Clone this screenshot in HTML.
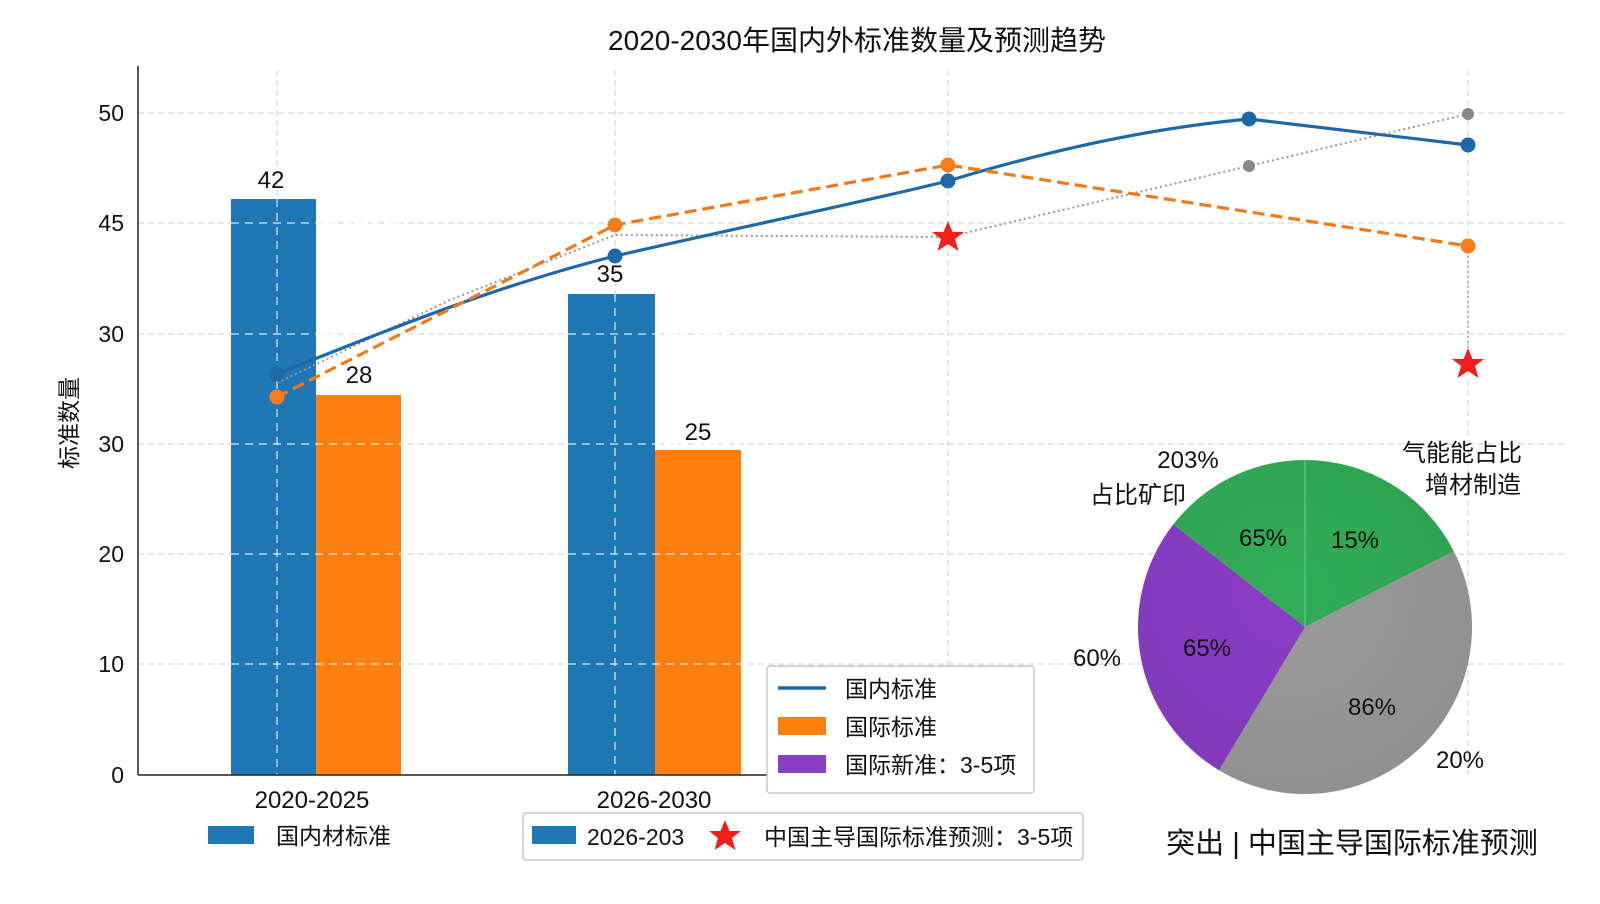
<!DOCTYPE html>
<html><head><meta charset="utf-8"><style>
html,body{margin:0;padding:0;background:#fff;}
svg text{font-family:"Liberation Sans","Noto Sans CJK SC",sans-serif;fill:#111;}
</style></head><body>
<svg width="1600" height="899" viewBox="0 0 1600 899" xmlns="http://www.w3.org/2000/svg">
<defs>
<radialGradient id="pg" cx="0.45" cy="0.4" r="0.7"><stop offset="0" stop-color="#000" stop-opacity="0"/><stop offset="1" stop-color="#000" stop-opacity="0.08"/></radialGradient>
</defs>
<text x="857" y="50" font-size="28" text-anchor="middle">2020-2030年国内外标准数量及预测趋势</text>
<g stroke="#cfcfcf" stroke-width="1" stroke-dasharray="6,4">
<line x1="138" y1="113" x2="1566" y2="113"/>
<line x1="138" y1="223" x2="1566" y2="223"/>
<line x1="138" y1="334" x2="1566" y2="334"/>
<line x1="138" y1="444" x2="1566" y2="444"/>
<line x1="138" y1="554" x2="1566" y2="554"/>
<line x1="138" y1="664" x2="1566" y2="664"/>
<line x1="277" y1="70" x2="277" y2="775"/>
<line x1="615" y1="70" x2="615" y2="775"/>
<line x1="948" y1="70" x2="948" y2="775"/>
<line x1="1468" y1="70" x2="1468" y2="775"/>
</g>
<rect x="231" y="199" width="85" height="576" fill="#1f77b4"/>
<rect x="316" y="395" width="85" height="380" fill="#ff7f0e"/>
<rect x="568" y="294" width="87" height="481" fill="#1f77b4"/>
<rect x="655" y="450" width="86" height="325" fill="#ff7f0e"/>
<g stroke="#fff" stroke-opacity="0.7" stroke-width="1.5" stroke-dasharray="8,6">
<line x1="277" y1="199" x2="277" y2="775"/><line x1="615" y1="294" x2="615" y2="775"/>
<line x1="231" y1="223" x2="401" y2="223"/><line x1="231" y1="334" x2="401" y2="334"/><line x1="231" y1="444" x2="401" y2="444"/><line x1="231" y1="554" x2="401" y2="554"/><line x1="231" y1="664" x2="401" y2="664"/>
<line x1="568" y1="334" x2="741" y2="334"/><line x1="568" y1="444" x2="741" y2="444"/><line x1="568" y1="554" x2="741" y2="554"/><line x1="568" y1="664" x2="741" y2="664"/>
</g>
<g font-size="24" text-anchor="middle">
<text x="271" y="188">42</text><text x="359" y="383">28</text><text x="610" y="282">35</text><text x="698" y="440">25</text>
</g>
<line x1="138" y1="66" x2="138" y2="775" stroke="#222" stroke-width="1.5"/>
<line x1="138" y1="775" x2="770" y2="775" stroke="#222" stroke-width="1.5"/>
<g font-size="23" text-anchor="end">
<text x="124" y="121">50</text><text x="124" y="231">45</text><text x="124" y="342">30</text><text x="124" y="452">30</text><text x="124" y="562">20</text><text x="124" y="672">10</text><text x="124" y="783">0</text>
</g>
<text transform="translate(77,423) rotate(-90)" font-size="23" text-anchor="middle">标准数量</text>
<g font-size="24" text-anchor="middle"><text x="312" y="808">2020-2025</text><text x="654" y="808">2026-2030</text></g>
<polyline points="277,383 450,300 615,235 948,237 1249,166 1468,114" fill="none" stroke="#999" stroke-width="2" stroke-dasharray="2,3"/>
<path d="M277,374 C400,325 500,285 615,256 C750,225 850,205 948,181 C1050,150 1150,128 1249,119 L1468,145" fill="none" stroke="#1f68a8" stroke-width="3.2"/>
<polyline points="277,397 615,225 948,165 1468,246" fill="none" stroke="#f07a1a" stroke-width="3.2" stroke-dasharray="12,6"/>
<line x1="1468" y1="246" x2="1468" y2="364" stroke="#888" stroke-width="1.2" stroke-dasharray="2,3"/>
<g fill="#1f68a8"><circle cx="277" cy="374" r="7.5"/><circle cx="615" cy="256" r="7.5"/><circle cx="948" cy="181" r="7.5"/><circle cx="1249" cy="119" r="7.5"/><circle cx="1468" cy="145" r="7.5"/></g>
<g fill="#f57d1c"><circle cx="277" cy="397" r="7.5"/><circle cx="615" cy="225" r="7.5"/><circle cx="948" cy="165" r="7.5"/><circle cx="1468" cy="246" r="7.5"/></g>
<g fill="#888"><circle cx="1249" cy="166" r="6"/><circle cx="1468" cy="114" r="6"/></g>
<g fill="#f21d1d">
<polygon points="948,221 952.5,232 964,232 955,239 958.5,251 948,244 937.5,251 941,239 932,232 943.5,232"/>
<polygon points="1468,348 1472.5,359 1484,359 1475,366 1478.5,378 1468,371 1457.5,378 1461,366 1452,359 1463.5,359"/>
</g>
<g transform="translate(1305,627)">
<path d="M0,0 L0,-167 A167,167 0 0,1 148.8,-75.8 Z" fill="#31ad57"/>
<path d="M0,0 L148.8,-75.8 A167,167 0 0,1 -86,143.2 Z" fill="#9b9b9b"/>
<path d="M0,0 L-86,143.2 A167,167 0 0,1 -131.6,-102.8 Z" fill="#8a3ec6"/>
<path d="M0,0 L-131.6,-102.8 A167,167 0 0,1 0,-167 Z" fill="#33ad58"/>
<circle r="167" fill="url(#pg)"/>
<line x1="0" y1="0" x2="0" y2="-167" stroke="#6fcf8a" stroke-width="1"/>
</g>
<g font-size="24" text-anchor="middle">
<text x="1263" y="546">65%</text><text x="1355" y="548">15%</text><text x="1207" y="656">65%</text><text x="1372" y="715">86%</text>
<text x="1188" y="468">203%</text><text x="1138" y="503">占比矿印</text>
<text x="1462" y="461">气能能占比</text><text x="1473" y="493">增材制造</text>
<text x="1097" y="666">60%</text><text x="1460" y="768">20%</text>
</g>
<text x="1352" y="853" font-size="29" text-anchor="middle">突出 | 中国主导国际标准预测</text>
<rect x="767" y="666" width="267" height="127" rx="3" fill="#fff" stroke="#bbb" stroke-width="1.2"/>
<line x1="778" y1="688" x2="826" y2="688" stroke="#1f68a8" stroke-width="3.5"/>
<rect x="778" y="717" width="48" height="18" fill="#ff7f0e"/>
<rect x="778" y="755" width="48" height="18" fill="#8a3ec6"/>
<g font-size="23"><text x="845" y="697">国内标准</text><text x="845" y="735">国际标准</text><text x="845" y="773">国际新准：3-5项</text></g>
<rect x="208" y="826" width="46" height="18" fill="#1f77b4"/>
<text x="276" y="844" font-size="23">国内材标准</text>
<rect x="523" y="813" width="560" height="47" rx="3" fill="#fff" stroke="#bbb" stroke-width="1.2"/>
<rect x="532" y="826" width="44" height="18" fill="#1f77b4"/>
<text x="587" y="845" font-size="23">2026-203</text>
<polygon points="725,820 729.5,831 741,831 732,838 735.5,850 725,843 714.5,850 718,838 709,831 720.5,831" fill="#f21d1d"/>
<text x="764" y="845" font-size="23">中国主导国际标准预测：3-5项</text>
</svg>
</body></html>
